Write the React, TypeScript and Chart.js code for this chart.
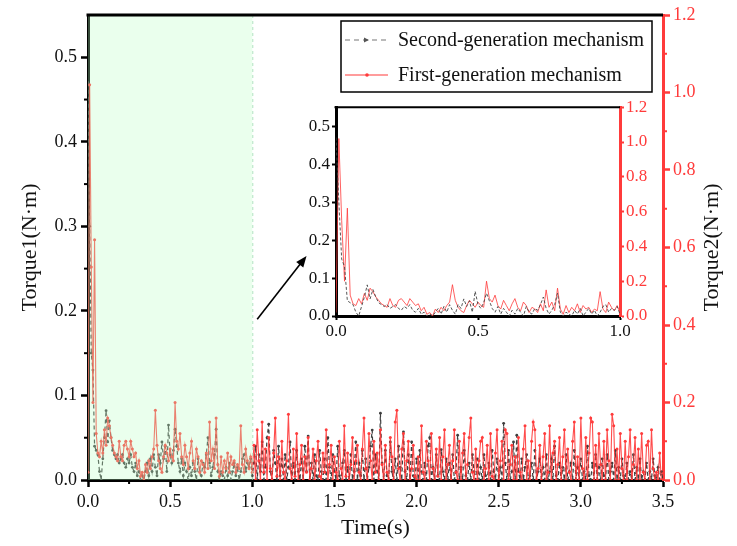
import React, { useEffect, useRef } from 'react';
import { Chart, registerables } from 'chart.js';

Chart.register(...registerables);

// ---------- data ----------
// sampling grid: 0.00 .. 3.50 s every 0.01 s
const timeS: number[] = Array.from({ length: 351 }, (_, i) => Math.round(i) / 100);

// Torque1 (N·m), second-generation mechanism, left axis
const torque1Second: number[] = [
  0.47, 0.30, 0.15, 0.13, 0.04, 0.035, 0.03, 0.01, 0.0, 0.025,
  0.05, 0.082, 0.045, 0.07, 0.05, 0.035, 0.03, 0.025, 0.03, 0.02,
  0.025, 0.03, 0.02, 0.015, 0.025, 0.02, 0.03, 0.015, 0.01, 0.02,
  0.005, 0.01, 0.0, 0.005, 0.0, 0.01, 0.02, 0.005, 0.025, 0.01,
  0.03, 0.015, 0.005, 0.03, 0.02, 0.045, 0.025, 0.04, 0.01, 0.065,
  0.03, 0.02, 0.035, 0.06, 0.04, 0.02, 0.01, 0.025, 0.005, 0.02,
  0.01, 0.0, 0.015, 0.005, 0.02, 0.01, 0.0, 0.025, 0.01, 0.005,
  0.02, 0.015, 0.03, 0.05, 0.02, 0.005, 0.015, 0.03, 0.06, 0.01,
  0.0, 0.01, 0.005, 0.0, 0.015, 0.005, 0.02, 0.0, 0.01, 0.02,
  0.005, 0.015, 0.0, 0.01, 0.025, 0.03, 0.01, 0.02, 0.015, 0.025,
  0.005, 0.02, 0.04, 0.0, 0.03, 0.01, 0.045, 0.0, 0.015, 0.05,
  0.066, 0.01, 0.0, 0.035, 0.02, 0.0, 0.04, 0.005, 0.025, 0.0,
  0.03, 0.0, 0.015, 0.045, 0.0, 0.02, 0.0, 0.035, 0.01, 0.0,
  0.025, 0.0, 0.04, 0.01, 0.052, 0.0, 0.02, 0.0, 0.03, 0.005,
  0.0, 0.035, 0.01, 0.0, 0.025, 0.0, 0.05, 0.015, 0.0, 0.03,
  0.01, 0.0, 0.04, 0.005, 0.0, 0.02, 0.035, 0.0, 0.015, 0.0,
  0.03, 0.0, 0.01, 0.045, 0.0, 0.02, 0.005, 0.035, 0.0, 0.025,
  0.0, 0.015, 0.04, 0.059, 0.0, 0.03, 0.01, 0.0, 0.079, 0.02,
  0.0, 0.035, 0.005, 0.0, 0.045, 0.01, 0.0, 0.025, 0.0, 0.04,
  0.015, 0.0, 0.057, 0.01, 0.0, 0.03, 0.0, 0.045, 0.005, 0.0,
  0.025, 0.0, 0.035, 0.01, 0.0, 0.02, 0.0, 0.04, 0.05, 0.0,
  0.015, 0.0, 0.03, 0.005, 0.0, 0.036, 0.01, 0.0, 0.025, 0.0,
  0.02, 0.0, 0.03, 0.0, 0.01, 0.053, 0.0, 0.015, 0.0, 0.035,
  0.005, 0.0, 0.02, 0.0, 0.03, 0.01, 0.0, 0.025, 0.0, 0.015,
  0.0, 0.03, 0.005, 0.0, 0.02, 0.0, 0.035, 0.01, 0.0, 0.025,
  0.0, 0.015, 0.0, 0.067, 0.02, 0.0, 0.035, 0.0, 0.01, 0.045,
  0.0, 0.053, 0.01, 0.0, 0.025, 0.0, 0.015, 0.03, 0.0, 0.005,
  0.02, 0.0, 0.035, 0.0, 0.01, 0.025, 0.0, 0.015, 0.0, 0.03,
  0.0, 0.01, 0.025, 0.0, 0.04, 0.005, 0.0, 0.02, 0.0, 0.015,
  0.0, 0.03, 0.0, 0.01, 0.02, 0.0, 0.035, 0.0, 0.015, 0.0,
  0.025, 0.0, 0.01, 0.0, 0.04, 0.005, 0.0, 0.02, 0.0, 0.03,
  0.0, 0.015, 0.0, 0.025, 0.005, 0.0, 0.03, 0.0, 0.01, 0.02,
  0.0, 0.035, 0.0, 0.015, 0.0, 0.025, 0.005, 0.0, 0.02, 0.0,
  0.01, 0.0, 0.03, 0.0, 0.015, 0.0, 0.025, 0.0, 0.01, 0.0,
  0.02, 0.0, 0.01, 0.0, 0.025, 0.005, 0.0, 0.015, 0.0, 0.01,
  0.0,
];

// Torque2 (N·m), first-generation mechanism, right axis
const torque2First: number[] = [
  0.02, 1.02, 0.55, 0.2, 0.62, 0.12, 0.07, 0.06, 0.1, 0.07,
  0.13, 0.09, 0.16, 0.14, 0.11, 0.09, 0.07, 0.06, 0.05, 0.1,
  0.06, 0.05, 0.09, 0.1, 0.08, 0.06, 0.1, 0.08, 0.06, 0.07,
  0.03, 0.05, 0.01, 0.02, 0.0, 0.04, 0.02, 0.05, 0.03, 0.06,
  0.08, 0.18, 0.09, 0.05, 0.03, 0.02, 0.06, 0.09, 0.07, 0.05,
  0.08, 0.06, 0.05, 0.2, 0.1, 0.08, 0.12, 0.06, 0.04, 0.09,
  0.06, 0.03, 0.07, 0.1, 0.05, 0.03, 0.08, 0.06, 0.02, 0.05,
  0.04, 0.02, 0.07, 0.03, 0.15, 0.05, 0.08, 0.03, 0.16, 0.04,
  0.01, 0.06, 0.02, 0.05, 0.03, 0.07, 0.02, 0.06, 0.04, 0.05,
  0.02, 0.04, 0.03, 0.14, 0.04, 0.02, 0.08, 0.05, 0.03, 0.06,
  0.02, 0.09, 0.0, 0.13, 0.05, 0.0, 0.15, 0.02, 0.08, 0.0,
  0.11, 0.03, 0.0, 0.07, 0.16, 0.01, 0.06, 0.0, 0.1, 0.02,
  0.0, 0.05, 0.17, 0.03, 0.0, 0.08, 0.01, 0.12, 0.0, 0.04,
  0.09, 0.0, 0.06, 0.02, 0.11, 0.0, 0.03, 0.08, 0.0, 0.05,
  0.1, 0.01, 0.0, 0.07, 0.02, 0.13, 0.0, 0.04, 0.09, 0.0,
  0.06, 0.02, 0.0, 0.1, 0.03, 0.0, 0.14, 0.01, 0.07, 0.0,
  0.04, 0.11, 0.0, 0.05, 0.09, 0.02, 0.0, 0.08, 0.16, 0.03,
  0.0, 0.12, 0.05, 0.0, 0.1, 0.02, 0.07, 0.0, 0.13, 0.04,
  0.0, 0.09, 0.02, 0.0, 0.11, 0.06, 0.0, 0.15, 0.18, 0.03,
  0.0, 0.08, 0.12, 0.0, 0.05, 0.1, 0.0, 0.03, 0.09, 0.01,
  0.0, 0.06, 0.0, 0.14, 0.02, 0.0, 0.1, 0.05, 0.0, 0.12,
  0.03, 0.0, 0.08, 0.01, 0.11, 0.0, 0.06, 0.13, 0.0, 0.04,
  0.09, 0.0, 0.05, 0.13, 0.02, 0.0, 0.1, 0.0, 0.07, 0.12,
  0.0, 0.04, 0.11, 0.16, 0.02, 0.0, 0.08, 0.0, 0.05, 0.1,
  0.11, 0.0, 0.03, 0.09, 0.0, 0.12, 0.01, 0.0, 0.07, 0.13,
  0.0, 0.05, 0.1, 0.0, 0.13, 0.12, 0.0, 0.04, 0.09, 0.0,
  0.06, 0.0, 0.11, 0.02, 0.0, 0.08, 0.14, 0.0, 0.05, 0.0,
  0.1, 0.15, 0.13, 0.0, 0.03, 0.09, 0.0, 0.06, 0.12, 0.0,
  0.02, 0.14, 0.0, 0.07, 0.1, 0.0, 0.04, 0.11, 0.0, 0.06,
  0.13, 0.0, 0.08, 0.02, 0.0, 0.1, 0.15, 0.0, 0.06, 0.0,
  0.16, 0.03, 0.0, 0.11, 0.0, 0.07, 0.16, 0.15, 0.0, 0.09,
  0.0, 0.12, 0.04, 0.0, 0.1, 0.0, 0.13, 0.05, 0.0, 0.17,
  0.14, 0.0, 0.08, 0.0, 0.12, 0.03, 0.0, 0.1, 0.0, 0.06,
  0.13, 0.0, 0.04, 0.11, 0.0, 0.08, 0.0, 0.12, 0.02, 0.0,
  0.09, 0.1, 0.0, 0.13, 0.03, 0.0, 0.02, 0.0, 0.07, 0.0,
  0.0,
];

const xTicks = [0, 0.5, 1.0, 1.5, 2.0, 2.5, 3.0, 3.5];
const xMinor = [0.25, 0.75, 1.25, 1.75, 2.25, 2.75, 3.25];
const y1Ticks = [0, 0.1, 0.2, 0.3, 0.4, 0.5];
const y1Minor = [0.05, 0.15, 0.25, 0.35, 0.45];
const y2Ticks = [0, 0.2, 0.4, 0.6, 0.8, 1.0, 1.2];
const y2Minor = [0.1, 0.3, 0.5, 0.7, 0.9, 1.1];
const insetXTicks = [0, 0.5, 1.0];
const HIGHLIGHT_END = 1.0;
const INSET_END_INDEX = 100;

const SERIES2_LABEL = 'Second-generation mechanism';
const SERIES1_LABEL = 'First-generation mechanism';

const FONT = "'Liberation Serif', 'Times New Roman', serif";
const RED = '#ff3b3b';
const GRAY = '#3e3e3e';

const fmt1 = (v: any) => Number(v).toFixed(1);

const setTicks = (vals: number[]) => (scale: any) => {
  scale.ticks = vals.map((v) => ({ value: v }));
};

function minorTicksPlugin(defs: { axis: string; values: number[]; color: string; len: number }[]) {
  return {
    id: 'minorTicks',
    afterDraw(chart: any) {
      const ctx = chart.ctx;
      defs.forEach((d) => {
        const s = chart.scales[d.axis];
        ctx.save();
        ctx.strokeStyle = d.color;
        ctx.lineWidth = 2;
        d.values.forEach((v) => {
          const p = s.getPixelForValue(v);
          ctx.beginPath();
          if (d.axis === 'x') {
            ctx.moveTo(p, s.top);
            ctx.lineTo(p, s.top + d.len);
          } else if (s.position === 'left') {
            ctx.moveTo(s.right, p);
            ctx.lineTo(s.right - d.len, p);
          } else {
            ctx.moveTo(s.left, p);
            ctx.lineTo(s.left + d.len, p);
          }
          ctx.stroke();
        });
        ctx.restore();
      });
    },
  };
}

const mainDecor = {
  id: 'mainDecor',
  afterDatasetsDraw(chart: any) {
    const { ctx, chartArea, scales } = chart;
    const x = scales.x;
    const x0 = x.getPixelForValue(0);
    const x1 = x.getPixelForValue(HIGHLIGHT_END);
    ctx.save();
    ctx.fillStyle = 'rgba(185,255,195,0.3)';
    ctx.fillRect(x0, chartArea.top, x1 - x0, chartArea.bottom - chartArea.top);
    ctx.strokeStyle = 'rgba(170,225,185,0.9)';
    ctx.setLineDash([3, 3]);
    ctx.lineWidth = 1;
    ctx.beginPath();
    ctx.moveTo(x1 + 0.5, chartArea.top);
    ctx.lineTo(x1 + 0.5, chartArea.bottom);
    ctx.stroke();
    ctx.restore();
  },
  afterDraw(chart: any) {
    const { ctx, chartArea, scales } = chart;
    ctx.save();
    // top frame line
    ctx.strokeStyle = '#000';
    ctx.lineWidth = 3;
    ctx.beginPath();
    ctx.moveTo(chartArea.left - 1.5, chartArea.top);
    ctx.lineTo(chartArea.right, chartArea.top);
    ctx.stroke();

    // right axis title (reads bottom to top)
    ctx.fillStyle = '#111';
    ctx.font = `22px ${FONT}`;
    ctx.textAlign = 'center';
    ctx.textBaseline = 'middle';
    ctx.translate(712, (chartArea.top + chartArea.bottom) / 2);
    ctx.rotate(-Math.PI / 2);
    ctx.fillText('Torque2(N·m)', 0, 0);
    ctx.restore();

    // legend
    ctx.save();
    const bx = 341, by = 21, bw = 311, bh = 71;
    ctx.fillStyle = '#fff';
    ctx.fillRect(bx, by, bw, bh);
    ctx.strokeStyle = '#000';
    ctx.lineWidth = 1.5;
    ctx.strokeRect(bx, by, bw, bh);
    const row1 = 40, row2 = 75;
    ctx.strokeStyle = '#777';
    ctx.lineWidth = 1.2;
    ctx.setLineDash([5, 4]);
    ctx.beginPath();
    ctx.moveTo(345, row1);
    ctx.lineTo(388, row1);
    ctx.stroke();
    ctx.setLineDash([]);
    ctx.fillStyle = '#555';
    ctx.beginPath();
    ctx.moveTo(364, row1 - 2.5);
    ctx.lineTo(369, row1);
    ctx.lineTo(364, row1 + 2.5);
    ctx.closePath();
    ctx.fill();
    ctx.strokeStyle = RED;
    ctx.beginPath();
    ctx.moveTo(345, row2);
    ctx.lineTo(388, row2);
    ctx.stroke();
    ctx.fillStyle = RED;
    ctx.beginPath();
    ctx.arc(367, row2, 1.8, 0, Math.PI * 2);
    ctx.fill();
    ctx.fillStyle = '#111';
    ctx.font = `20px ${FONT}`;
    ctx.textAlign = 'left';
    ctx.textBaseline = 'middle';
    ctx.fillText(SERIES2_LABEL, 398, row1 + 1);
    ctx.fillText(SERIES1_LABEL, 398, row2 + 1);
    ctx.restore();

    // arrow pointing to the inset
    const y = scales.y;
    const tx = scales.x.getPixelForValue(1.03), ty = y.getPixelForValue(0.19);
    const hx = scales.x.getPixelForValue(1.33), hy = y.getPixelForValue(0.265);
    const ang = Math.atan2(hy - ty, hx - tx);
    ctx.save();
    ctx.strokeStyle = '#000';
    ctx.fillStyle = '#000';
    ctx.lineWidth = 1.6;
    ctx.beginPath();
    ctx.moveTo(tx, ty);
    ctx.lineTo(hx - 8 * Math.cos(ang), hy - 8 * Math.sin(ang));
    ctx.stroke();
    ctx.beginPath();
    ctx.moveTo(hx, hy);
    ctx.lineTo(hx - 11 * Math.cos(ang) + 4.5 * Math.sin(ang), hy - 11 * Math.sin(ang) - 4.5 * Math.cos(ang));
    ctx.lineTo(hx - 11 * Math.cos(ang) - 4.5 * Math.sin(ang), hy - 11 * Math.sin(ang) + 4.5 * Math.cos(ang));
    ctx.closePath();
    ctx.fill();
    ctx.restore();
  },
};

const insetDecor = {
  id: 'insetDecor',
  afterDraw(chart: any) {
    const { ctx, chartArea } = chart;
    ctx.save();
    ctx.strokeStyle = '#000';
    ctx.lineWidth = 2;
    ctx.beginPath();
    ctx.moveTo(chartArea.left - 1.5, chartArea.top);
    ctx.lineTo(chartArea.right, chartArea.top);
    ctx.stroke();
    ctx.restore();
  },
};

export default function App() {
  const mainRef = useRef<HTMLCanvasElement | null>(null);
  const insetRef = useRef<HTMLCanvasElement | null>(null);

  useEffect(() => {
    Chart.defaults.font.family = FONT;
    const grayPts = timeS.map((t, i) => ({ x: t, y: torque1Second[i] }));
    const redPts = timeS.map((t, i) => ({ x: t, y: torque2First[i] }));

    const main = new Chart(mainRef.current as HTMLCanvasElement, {
      type: 'line',
      data: {
        datasets: [
          {
            label: SERIES1_LABEL,
            data: redPts,
            yAxisID: 'y2',
            borderColor: 'rgba(255,45,45,0.85)',
            backgroundColor: RED,
            borderWidth: 1.1,
            pointRadius: 1.5,
            pointBorderWidth: 0,
            pointBackgroundColor: RED,
            order: 0,
          },
          {
            label: SERIES2_LABEL,
            data: grayPts,
            yAxisID: 'y',
            borderColor: GRAY,
            backgroundColor: GRAY,
            borderWidth: 1.2,
            borderDash: [4, 3],
            pointRadius: 1.4,
            pointBorderWidth: 0,
            pointBackgroundColor: GRAY,
            order: 1,
          },
        ],
      },
      options: {
        responsive: false,
        animation: false,
        parsing: false,
        layout: { padding: { top: 15, left: 0, right: 0, bottom: 0 } },
        plugins: { legend: { display: false }, tooltip: { enabled: false } },
        scales: {
          x: {
            type: 'linear',
            min: 0,
            max: 3.5,
            afterFit: (s: any) => { s.height = 66; },
            afterBuildTicks: setTicks(xTicks),
            ticks: { callback: fmt1, color: '#111', font: { size: 18 }, padding: 4, maxRotation: 0, autoSkip: false },
            grid: { drawOnChartArea: false, drawTicks: true, tickLength: 7, tickWidth: 2.5, tickColor: '#000' },
            border: { color: '#000', width: 3 },
            title: { display: true, text: 'Time(s)', font: { size: 22 }, color: '#111', padding: { top: 0, bottom: 5 } },
          },
          y: {
            type: 'linear',
            position: 'left',
            min: 0,
            max: 0.55,
            afterFit: (s: any) => { s.width = 88; },
            afterBuildTicks: setTicks(y1Ticks),
            ticks: { callback: fmt1, color: '#111', font: { size: 18 }, padding: 4, autoSkip: false },
            grid: { drawOnChartArea: false, drawTicks: true, tickLength: 7, tickWidth: 2.5, tickColor: '#000' },
            border: { color: '#000', width: 3 },
            title: { display: true, text: 'Torque1(N·m)', font: { size: 22 }, color: '#111', padding: { top: 17, bottom: 0 } },
          },
          y2: {
            type: 'linear',
            position: 'right',
            min: 0,
            max: 1.2,
            afterFit: (s: any) => { s.width = 74; },
            afterBuildTicks: setTicks(y2Ticks),
            ticks: { callback: fmt1, color: RED, font: { size: 18 }, padding: 3, autoSkip: false },
            grid: { drawOnChartArea: false, drawTicks: true, tickLength: 7, tickWidth: 2.5, tickColor: RED },
            border: { color: RED, width: 3 },
          },
        },
      },
      plugins: [
        mainDecor,
        minorTicksPlugin([
          { axis: 'x', values: xMinor, color: '#000', len: 4 },
          { axis: 'y', values: y1Minor, color: '#000', len: 4 },
          { axis: 'y2', values: y2Minor, color: RED, len: 4 },
        ]),
      ],
    } as any);

    const inset = new Chart(insetRef.current as HTMLCanvasElement, {
      type: 'line',
      data: {
        datasets: [
          {
            label: SERIES2_LABEL,
            data: grayPts.slice(0, INSET_END_INDEX + 1),
            yAxisID: 'y',
            borderColor: '#444',
            borderWidth: 0.9,
            borderDash: [3, 2],
            pointRadius: 0,
            order: 0,
          },
          {
            label: SERIES1_LABEL,
            data: redPts.slice(0, INSET_END_INDEX + 1),
            yAxisID: 'y2',
            borderColor: 'rgba(255,60,60,0.9)',
            borderWidth: 0.9,
            pointRadius: 0,
            order: 1,
          },
        ],
      },
      options: {
        responsive: false,
        animation: false,
        parsing: false,
        layout: { padding: { top: 10, left: 0, right: 0, bottom: 0 } },
        plugins: { legend: { display: false }, tooltip: { enabled: false } },
        scales: {
          x: {
            type: 'linear',
            min: 0,
            max: 1.0,
            afterFit: (s: any) => { s.height = 29; },
            afterBuildTicks: setTicks(insetXTicks),
            ticks: { callback: fmt1, color: '#111', font: { size: 17 }, padding: 1, maxRotation: 0, autoSkip: false },
            grid: { drawOnChartArea: false, drawTicks: true, tickLength: 4, tickWidth: 2, tickColor: '#000' },
            border: { color: '#000', width: 3 },
          },
          y: {
            type: 'linear',
            position: 'left',
            min: 0,
            max: 0.55,
            afterFit: (s: any) => { s.width = 56; },
            afterBuildTicks: setTicks(y1Ticks),
            ticks: { callback: fmt1, color: '#111', font: { size: 17 }, padding: 2, autoSkip: false },
            grid: { drawOnChartArea: false, drawTicks: true, tickLength: 4, tickWidth: 2, tickColor: '#000' },
            border: { color: '#000', width: 3 },
          },
          y2: {
            type: 'linear',
            position: 'right',
            min: 0,
            max: 1.2,
            afterFit: (s: any) => { s.width = 40; },
            afterBuildTicks: setTicks(y2Ticks),
            ticks: { callback: fmt1, color: RED, font: { size: 17 }, padding: 2, autoSkip: false },
            grid: { drawOnChartArea: false, drawTicks: true, tickLength: 4, tickWidth: 2, tickColor: RED },
            border: { color: RED, width: 3 },
          },
        },
      },
      plugins: [insetDecor],
    } as any);

    return () => {
      main.destroy();
      inset.destroy();
    };
  }, []);

  return (
    <div style={{ position: 'absolute', left: 0, top: 0, width: 737, height: 546, background: '#fff' }}>
      <canvas ref={mainRef} width={737} height={546} style={{ position: 'absolute', left: 0, top: 0 }} />
      <canvas ref={insetRef} width={380} height={250} style={{ position: 'absolute', left: 280, top: 95 }} />
    </div>
  );
}
